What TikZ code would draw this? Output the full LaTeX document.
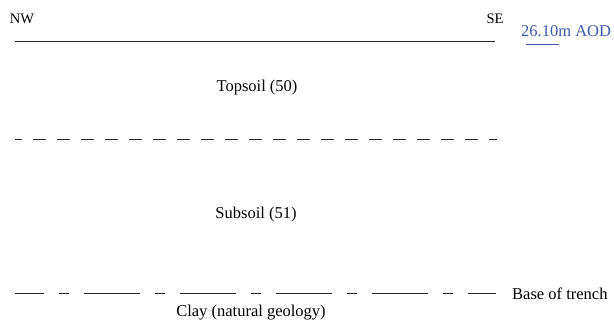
\documentclass[tikz,border=0pt]{standalone}
\usepackage{fontspec}
\setmainfont{Liberation Serif}
\definecolor{aodblue}{RGB}{62,88,176}
\begin{document}
\begin{tikzpicture}[x=1pt,y=-1pt,
  lbl/.style={inner sep=0pt, font=\fontsize{16.5}{18}\selectfont},
  small/.style={inner sep=0pt, font=\fontsize{14.5}{16}\selectfont},
  aod/.style={inner sep=0pt, text=aodblue, font=\fontsize{16.5}{18}\selectfont},
  ground/.style={line width=1pt, draw=black!85},
  layer/.style={line width=1pt, draw=black!85, dash pattern=on 13pt off 11pt, dash phase=6pt},
  trench/.style={line width=1pt, draw=black!85, dash pattern=on 56pt off 15pt on 10pt off 15pt, dash phase=27pt}]
\useasboundingbox (0,0) rectangle (614,326);
\node[small] (nw) at (22,19) {NW};
\node[small] (se) at (495,19) {SE};
\node[aod, anchor=west] (aod) at (521,31) {26.10m AOD};
\coordinate (gl) at (15,42);
\coordinate (gr) at (495,42);
\draw[ground] (gl) -- (gr);
\coordinate (ul) at (526,45);
\coordinate (ur) at (559,45);
\draw[aodblue, line width=1pt] (ul) -- (ur);
\node[lbl] (top) at (257,88) {Topsoil (50)};
\coordinate (tl) at (15,140);
\coordinate (tr) at (497,140);
\draw[layer] (tl) -- (tr);
\node[lbl] (sub) at (256,215) {Subsoil (51)};
\coordinate (bl) at (15,294);
\coordinate (br) at (496,294);
\draw[trench] (bl) -- (br);
\node[lbl, anchor=west] (base) at (512,294) {Base of trench};
\node[lbl] (clay) at (251,313) {Clay (natural geology)};
\end{tikzpicture}
\end{document}
